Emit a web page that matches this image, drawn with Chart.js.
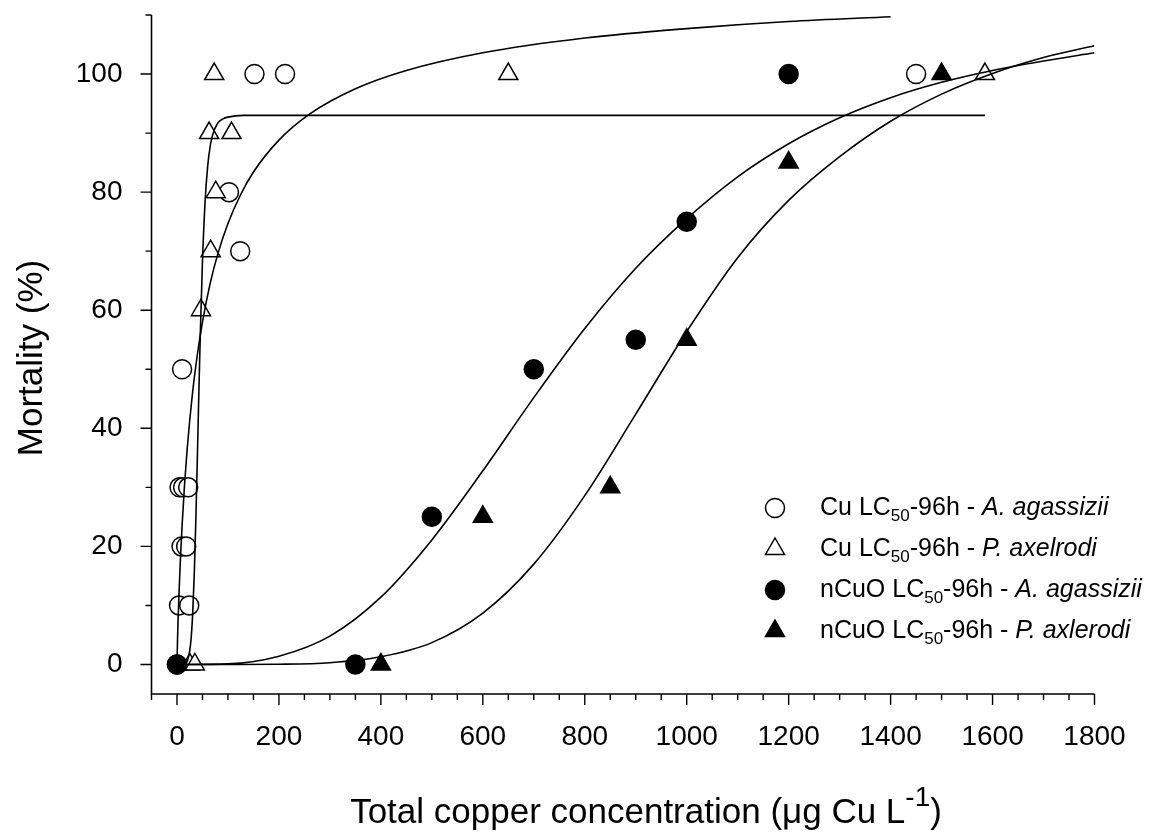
<!DOCTYPE html>
<html>
<head>
<meta charset="utf-8">
<script src="https://cdn.jsdelivr.net/npm/chart.js@4/dist/chart.umd.min.js"></script>
<style>
  html, body { margin: 0; padding: 0; background: #ffffff; }
  #wrap { width: 1166px; height: 838px; position: relative; }
</style>
</head>
<body>
<div id="wrap"><canvas id="chart" width="1166" height="838"></canvas></div>
<script>
// Observed mortality (%) against total copper concentration (µg Cu/L)
const cuAgassiziiX = [0, 4, 24, 9, 18, 5, 12, 22, 10, 102, 124, 152, 212, 1450];
const cuAgassiziiY = [0, 10, 10, 20, 20, 30, 30, 30, 50, 80, 70, 100, 100, 100];

const cuAxelrodiX = [25, 35, 47, 66, 76, 63, 107, 73, 650, 1585];
const cuAxelrodiY = [0, 0, 60, 70, 80, 90, 90, 100, 100, 100];

const nCuOAgassiziiX = [0, 350, 500, 700, 900, 1000, 1200];
const nCuOAgassiziiY = [0, 0, 25, 50, 55, 75, 100];

const nCuOAxelrodiX = [400, 600, 850, 1000, 1200, 1500];
const nCuOAxelrodiY = [0, 25, 30, 55, 85, 100];

// Fitted concentration-response curves
const cuAgassiziiFitX = [0, 1, 2, 4, 7, 10, 15, 20, 30, 40, 50, 65, 80, 100, 125, 150, 200, 260, 350, 450, 600, 800, 1000, 1200, 1400];
const cuAgassiziiFitY = [0, 4.0, 7.1, 12.1, 18.4, 23.5, 30.7, 36.5, 45.6, 52.5, 58.0, 64.5, 69.5, 74.7, 79.6, 83.4, 88.8, 93.2, 97.5, 100.6, 103.6, 106.1, 107.7, 108.9, 109.7];

const cuAxelrodiFitX = [0, 15, 20, 25, 28, 31, 34, 37, 40, 43, 46, 50, 55, 60, 65, 70, 80, 90, 100, 130, 200, 1585];
const cuAxelrodiFitY = [0, 0.1, 0.5, 2.3, 4.7, 9.0, 15.6, 24.5, 35.2, 46.4, 56.8, 68.3, 78.2, 84.2, 87.7, 89.7, 91.7, 92.4, 92.7, 93.0, 93.0, 93.0];

const nCuOFitX = [0, 100, 200, 300, 400, 500, 600, 700, 800, 900, 1000, 1100, 1200, 1300, 1400, 1500, 1600, 1700, 1800];
const nCuOAgassiziiFitY = [0, 0.1, 1.4, 4.8, 11.4, 21.1, 32.8, 45.2, 56.9, 67.1, 75.5, 82.6, 88.2, 92.6, 96.0, 98.6, 100.6, 102.2, 103.6];
const nCuOAxelrodiFitY = [0, 0, 0.04, 0.3, 1.3, 3.7, 8.7, 17.0, 28.6, 42.4, 56.4, 68.9, 78.6, 86.0, 92.0, 96.6, 100.1, 102.8, 104.8];

// Axis ticks
const xTickLabels = [0, 200, 400, 600, 800, 1000, 1200, 1400, 1600, 1800];
const xMinorTicks = [-50, 0, 50, 100, 150, 200, 250, 300, 350, 400, 450, 500, 550, 600, 650, 700, 750, 800, 850, 900, 950, 1000, 1050, 1100, 1150, 1200, 1250, 1300, 1350, 1400, 1450, 1500, 1550, 1600, 1650, 1700, 1750, 1800];
const yTickLabels = [0, 20, 40, 60, 80, 100];
const yMinorTicks = [0, 10, 20, 30, 40, 50, 60, 70, 80, 90, 100, 110];

// Legend entries: [prefix, subscript, middle, italic species]
const legendEntries = [
  ['Cu LC', '50', '-96h - ', 'A. agassizii'],
  ['Cu LC', '50', '-96h - ', 'P. axelrodi'],
  ['nCuO LC', '50', '-96h - ', 'A. agassizii'],
  ['nCuO LC', '50', '-96h - ', 'P. axlerodi']
];

const FONT = '"Liberation Sans", Arial, Helvetica, sans-serif';

function pts(xs, ys) { return xs.map((x, i) => ({ x: x, y: ys[i] })); }

const markerBase = { showLine: false, borderColor: '#000', borderWidth: 1.5 };
const curveBase = {
  showLine: true, pointRadius: 0, pointHoverRadius: 0, borderColor: '#000',
  borderWidth: 1.6, cubicInterpolationMode: 'monotone', fill: false, order: 0
};

const datasets = [
  Object.assign({}, curveBase, { label: 'fit Cu A. agassizii', data: pts(cuAgassiziiFitX, cuAgassiziiFitY) }),
  Object.assign({}, curveBase, { label: 'fit Cu P. axelrodi', data: pts(cuAxelrodiFitX, cuAxelrodiFitY) }),
  Object.assign({}, curveBase, { label: 'fit nCuO A. agassizii', data: pts(nCuOFitX, nCuOAgassiziiFitY) }),
  Object.assign({}, curveBase, { label: 'fit nCuO P. axlerodi', data: pts(nCuOFitX, nCuOAxelrodiFitY) }),
  Object.assign({}, markerBase, { label: 'nCuO P. axlerodi', data: pts(nCuOAxelrodiX, nCuOAxelrodiY),
    pointStyle: 'triangle', pointRadius: 11, backgroundColor: '#000', order: 1 }),
  Object.assign({}, markerBase, { label: 'nCuO A. agassizii', data: pts(nCuOAgassiziiX, nCuOAgassiziiY),
    pointStyle: 'circle', pointRadius: 9.5, backgroundColor: '#000', order: 2 }),
  Object.assign({}, markerBase, { label: 'Cu P. axelrodi', data: pts(cuAxelrodiX, cuAxelrodiY),
    pointStyle: 'triangle', pointRadius: 11, backgroundColor: '#fff', order: 3 }),
  Object.assign({}, markerBase, { label: 'Cu A. agassizii', data: pts(cuAgassiziiX, cuAgassiziiY),
    pointStyle: 'circle', pointRadius: 9.5, backgroundColor: '#fff', order: 4 })
];

// Axis lines, outward major/minor ticks, titles and the legend
const decorations = {
  id: 'decorations',
  beforeDatasetsDraw(chart) {
    const ctx = chart.ctx;
    const xs = chart.scales.x, ys = chart.scales.y;
    const area = chart.chartArea;
    ctx.save();
    ctx.strokeStyle = '#000';
    ctx.lineWidth = 1.6;
    ctx.beginPath();
    ctx.moveTo(area.left, area.top);
    ctx.lineTo(area.left, area.bottom);
    ctx.lineTo(area.right, area.bottom);
    ctx.stroke();
    ctx.lineWidth = 1.4;
    ctx.beginPath();
    xMinorTicks.forEach(v => {
      const px = xs.getPixelForValue(v);
      const len = xTickLabels.includes(v) ? 11 : 6;
      ctx.moveTo(px, area.bottom);
      ctx.lineTo(px, area.bottom + len);
    });
    yMinorTicks.forEach(v => {
      const py = ys.getPixelForValue(v);
      const len = yTickLabels.includes(v) ? 11 : 6;
      ctx.moveTo(area.left, py);
      ctx.lineTo(area.left - len, py);
    });
    ctx.stroke();
    ctx.restore();
  },
  afterDraw(chart) {
    const ctx = chart.ctx;
    ctx.save();
    ctx.fillStyle = '#000';
    ctx.textBaseline = 'middle';

    // y-axis title
    ctx.save();
    ctx.translate(32, 358);
    ctx.rotate(-Math.PI / 2);
    ctx.font = '35px ' + FONT;
    ctx.textAlign = 'center';
    ctx.fillText('Mortality (%)', 0, 0);
    ctx.restore();

    // x-axis title with superscript
    const mainFont = '35px ' + FONT;
    const supFont = '28px ' + FONT;
    const partA = 'Total copper concentration (\u03bcg Cu L';
    const partSup = '-1';
    const partB = ')';
    ctx.font = mainFont;
    const wA = ctx.measureText(partA).width;
    const wB = ctx.measureText(partB).width;
    ctx.font = supFont;
    const wS = ctx.measureText(partSup).width;
    const total = wA + wS + wB;
    let tx = 646 - total / 2;
    const ty = 813;
    ctx.textAlign = 'left';
    ctx.font = mainFont;
    ctx.fillText(partA, tx, ty);
    tx += wA;
    ctx.font = supFont;
    ctx.fillText(partSup, tx, ty - 15);
    tx += wS;
    ctx.font = mainFont;
    ctx.fillText(partB, tx, ty);

    // legend
    const mx = 775, tx0 = 820;
    const rows = [508, 549, 590, 631];
    const styles = [
      { shape: 'circle', fill: '#fff' },
      { shape: 'triangle', fill: '#fff' },
      { shape: 'circle', fill: '#000' },
      { shape: 'triangle', fill: '#000' }
    ];
    rows.forEach((ry, i) => {
      const st = styles[i];
      ctx.lineWidth = 1.5;
      ctx.strokeStyle = '#000';
      ctx.fillStyle = st.fill;
      ctx.beginPath();
      if (st.shape === 'circle') {
        ctx.arc(mx, ry, 9.5, 0, Math.PI * 2);
      } else {
        ctx.moveTo(mx, ry - 11);
        ctx.lineTo(mx + 9.5, ry + 5.5);
        ctx.lineTo(mx - 9.5, ry + 5.5);
        ctx.closePath();
      }
      ctx.fill();
      ctx.stroke();

      const e = legendEntries[i];
      ctx.fillStyle = '#000';
      let x = tx0;
      ctx.font = '25px ' + FONT;
      ctx.fillText(e[0], x, ry);
      x += ctx.measureText(e[0]).width;
      ctx.font = '17px ' + FONT;
      ctx.fillText(e[1], x, ry + 8);
      x += ctx.measureText(e[1]).width;
      ctx.font = '25px ' + FONT;
      ctx.fillText(e[2], x, ry);
      x += ctx.measureText(e[2]).width;
      ctx.font = 'italic 25px ' + FONT;
      ctx.fillText(e[3], x, ry);
    });
    ctx.restore();
  }
};

new Chart(document.getElementById('chart'), {
  type: 'scatter',
  data: { datasets: datasets },
  options: {
    responsive: false,
    animation: false,
    devicePixelRatio: 1,
    layout: { padding: { left: 0, right: 71.5, top: 15, bottom: 0 } },
    plugins: { legend: { display: false }, tooltip: { enabled: false } },
    scales: {
      x: {
        type: 'linear', min: -50, max: 1800,
        grid: { display: false, drawTicks: false },
        border: { display: false },
        afterBuildTicks: s => { s.ticks = xTickLabels.map(v => ({ value: v })); },
        afterFit: s => { s.height = 838 - 694; s.paddingLeft = 0; s.paddingRight = 0; },
        ticks: { color: '#000', padding: 26, font: { family: FONT, size: 28 }, maxRotation: 0,
          callback: v => String(v) }
      },
      y: {
        type: 'linear', min: -5, max: 110,
        grid: { display: false, drawTicks: false },
        border: { display: false },
        afterBuildTicks: s => { s.ticks = yTickLabels.map(v => ({ value: v })); },
        afterFit: s => { s.width = 151.5; s.paddingTop = 0; s.paddingBottom = 0; },
        ticks: { color: '#000', padding: 29, font: { family: FONT, size: 28 },
          callback: v => String(v) }
      }
    }
  },
  plugins: [decorations]
});
</script>
</body>
</html>
